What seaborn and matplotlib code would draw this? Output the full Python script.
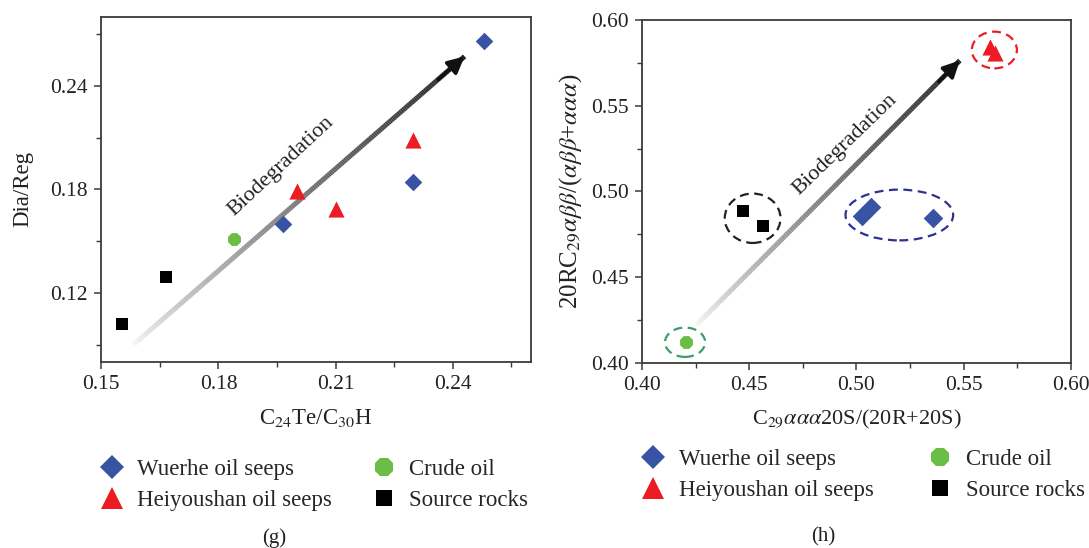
import numpy as np
import pandas as pd
import matplotlib
matplotlib.use("Agg")
import matplotlib.pyplot as plt
import seaborn as sns
from matplotlib.collections import LineCollection
from matplotlib.lines import Line2D
from matplotlib.patches import Ellipse
from matplotlib.ticker import MultipleLocator, FormatStrFormatter

sns.set_theme(style="white")
plt.rcParams['font.family'] = ['Liberation Serif', 'DejaVu Serif']
plt.rcParams['mathtext.fontset'] = 'stix'

# ---------------- data ----------------
groups = ["Wuerhe oil seeps", "Heiyoushan oil seeps", "Crude oil", "Source rocks"]
colors = {"Wuerhe oil seeps": "#3953A4", "Heiyoushan oil seeps": "#ED1C24",
          "Crude oil": "#6ABD45", "Source rocks": "#000000"}
markers = {"Wuerhe oil seeps": "D", "Heiyoushan oil seeps": "^",
           "Crude oil": "8", "Source rocks": "s"}

# panel (g): C24Te/C30H vs Dia/Reg
g_wuerhe_x = [0.2479, 0.1966, 0.2297]
g_wuerhe_y = [0.2662, 0.1600, 0.1843]
g_heiyou_x = [0.2000, 0.2100, 0.2297]
g_heiyou_y = [0.1790, 0.1687, 0.2088]
g_crude_x = [0.1841]
g_crude_y = [0.1515]
g_source_x = [0.1665, 0.1554]
g_source_y = [0.1296, 0.1022]

# panel (h): C29aaa20S/(20R+20S) vs 20RC29abb/(abb+aaa)
h_wuerhe_x = [0.5025, 0.5068, 0.5358]
h_wuerhe_y = [0.4855, 0.4908, 0.4844]
h_heiyou_x = [0.5622, 0.5648]
h_heiyou_y = [0.5842, 0.5808]
h_crude_x = [0.4203]
h_crude_y = [0.4121]
h_source_x = [0.4473, 0.4566]
h_source_y = [0.4888, 0.4801]

# annotation geometry (arrow start/end, text centre, ellipses)
g_arrow = [(0.1582, 0.0901), (0.2430, 0.2570)]
g_text = (0.1960, 0.1935)
h_arrow = [(0.4255, 0.4223), (0.5482, 0.5764)]
h_text = (0.4945, 0.5275)
h_ellipses = [  # centre x, centre y, width, height, colour
    (0.5643, 0.5825, 0.0210, 0.0214, "#ED1C24"),
    (0.4516, 0.4844, 0.0260, 0.0288, "#222222"),
    (0.5200, 0.4863, 0.0502, 0.0296, "#2E3192"),
    (0.4201, 0.4121, 0.0187, 0.0171, "#3E9C6A"),
]


def make_df(wx, wy, hx, hy, cx, cy, sx, sy):
    rows = []
    for name, xs, ys in [(groups[0], wx, wy), (groups[1], hx, hy),
                         (groups[2], cx, cy), (groups[3], sx, sy)]:
        for x, y in zip(xs, ys):
            rows.append({"x": x, "y": y, "group": name})
    return pd.DataFrame(rows)


df_g = make_df(g_wuerhe_x, g_wuerhe_y, g_heiyou_x, g_heiyou_y,
               g_crude_x, g_crude_y, g_source_x, g_source_y)
df_h = make_df(h_wuerhe_x, h_wuerhe_y, h_heiyou_x, h_heiyou_y,
               h_crude_x, h_crude_y, h_source_x, h_source_y)

fig = plt.figure(figsize=(10.89, 5.48), dpi=100)
ax1 = fig.add_axes([0.0930, 0.3389, 0.3946, 0.6307])
ax2 = fig.add_axes([0.5895, 0.3376, 0.3939, 0.6259])


def gradient_arrow(ax, p0, p1, n=200):
    xs = np.linspace(p0[0], p1[0], n)
    ys = np.linspace(p0[1], p1[1], n)
    pts = np.column_stack([xs, ys]).reshape(-1, 1, 2)
    segs = np.concatenate([pts[:-1], pts[1:]], axis=1)
    t = np.linspace(0, 1, n - 1)
    grey = 0.97 - 0.85 * t ** 0.75
    cols = [(g, g, g) for g in grey]
    lc = LineCollection(segs, colors=cols, linewidths=3.6, capstyle='butt', zorder=1)
    ax.add_collection(lc)
    back = (p1[0] - (p1[0] - p0[0]) * 0.08, p1[1] - (p1[1] - p0[1]) * 0.08)
    ax.annotate('', xy=p1, xytext=back,
                arrowprops=dict(arrowstyle='-|>', mutation_scale=25,
                                color='#111111', lw=2.5, shrinkA=0, shrinkB=0),
                zorder=2)


sizes_g = {"Wuerhe oil seeps": 80, "Heiyoushan oil seeps": 135,
           "Crude oil": 100, "Source rocks": 78}
sizes_h = {"Wuerhe oil seeps": 100, "Heiyoushan oil seeps": 135,
           "Crude oil": 100, "Source rocks": 75}

for ax, df, sizes in [(ax1, df_g, sizes_g), (ax2, df_h, sizes_h)]:
    for grp in groups:
        sub = df[df["group"] == grp]
        sns.scatterplot(data=sub, x="x", y="y", ax=ax, color=colors[grp],
                        marker=markers[grp], s=sizes[grp], linewidth=0,
                        legend=False, zorder=3)

gradient_arrow(ax1, *g_arrow)
gradient_arrow(ax2, *h_arrow)

ax1.text(*g_text, "Biodegradation", rotation=43, rotation_mode='anchor',
         ha='center', va='center', fontsize=16, color='#222222')
ax2.text(*h_text, "Biodegradation", rotation=44, rotation_mode='anchor',
         ha='center', va='center', fontsize=16, color='#222222')

for cx, cy, w, h, c in h_ellipses:
    ax2.add_patch(Ellipse((cx, cy), w, h, fill=False, ec=c, lw=1.6,
                          ls=(0, (4, 2.5)), zorder=4))

# axes styling
ax1.set_xlim(0.15, 0.26)
ax1.set_ylim(0.08, 0.28)
ax1.xaxis.set_major_locator(MultipleLocator(0.03))
ax1.xaxis.set_minor_locator(MultipleLocator(0.015))
ax1.set_yticks([0.12, 0.18, 0.24])
ax1.set_yticks([0.09, 0.15, 0.21, 0.27], minor=True)

ax2.set_xlim(0.40, 0.60)
ax2.set_ylim(0.40, 0.60)
for a in (ax2.xaxis, ax2.yaxis):
    a.set_major_locator(MultipleLocator(0.05))
    a.set_minor_locator(MultipleLocator(0.025))

for ax in (ax1, ax2):
    ax.xaxis.set_major_formatter(FormatStrFormatter('%.2f'))
    ax.yaxis.set_major_formatter(FormatStrFormatter('%.2f'))
    for sp in ax.spines.values():
        sp.set_color('#3a3a3a')
        sp.set_linewidth(1.3)
    ax.tick_params(which='major', direction='out', length=5, width=1.1,
                   color='#3a3a3a', labelsize=15.5, labelcolor='#222222',
                   bottom=True, left=True, pad=4.5)
    ax.tick_params(which='minor', direction='out', length=3.5, width=1.0,
                   color='#3a3a3a', bottom=True, left=True)
    ax.grid(False)

ax1.set_xlabel("C$_{24}$Te/C$_{30}$H", fontsize=16.5, color='#222222', labelpad=9)
ax1.set_ylabel("Dia/Reg", fontsize=16.5, color='#222222', labelpad=12)
ax2.set_xlabel("C$_{29}$$\\alpha\\alpha\\alpha$20S/(20R+20S)", fontsize=16,
               color='#222222', labelpad=9)
ax2.set_ylabel("20RC$_{29}$$\\alpha\\beta\\beta$/($\\alpha\\beta\\beta$+$\\alpha\\alpha\\alpha$)",
               fontsize=18, color='#222222', labelpad=5)

leg_ms = {"Wuerhe oil seeps": 12, "Heiyoushan oil seeps": 16,
          "Crude oil": 14.5, "Source rocks": 12}


def handles():
    return [Line2D([], [], ls='none', marker=markers[g], color=colors[g],
                   markersize=leg_ms[g], markeredgewidth=0, label=g) for g in groups]


fs = 16.5
fig.legend(handles=handles(), loc='upper left', ncol=2, frameon=False,
           bbox_to_anchor=(100.5 / 1089, 1 - 459 / 548), fontsize=fs,
           handlelength=1.0, handletextpad=0.58, columnspacing=1.8,
           labelspacing=0.44, borderpad=0, borderaxespad=0)
fig.legend(handles=handles(), loc='upper left', ncol=2, frameon=False,
           bbox_to_anchor=(642 / 1089, 1 - 449 / 548), fontsize=fs,
           handlelength=1.0, handletextpad=0.62, columnspacing=2.4,
           labelspacing=0.44, borderpad=0, borderaxespad=0)

fig.text(274 / 1089, 1 - 538 / 548, "(g)", ha='center', va='center',
         fontsize=15, color='#222222')
fig.text(823 / 1089, 1 - 537 / 548, "(h)", ha='center', va='center',
         fontsize=15, color='#222222')

fig.savefig("out.png", dpi=100)
